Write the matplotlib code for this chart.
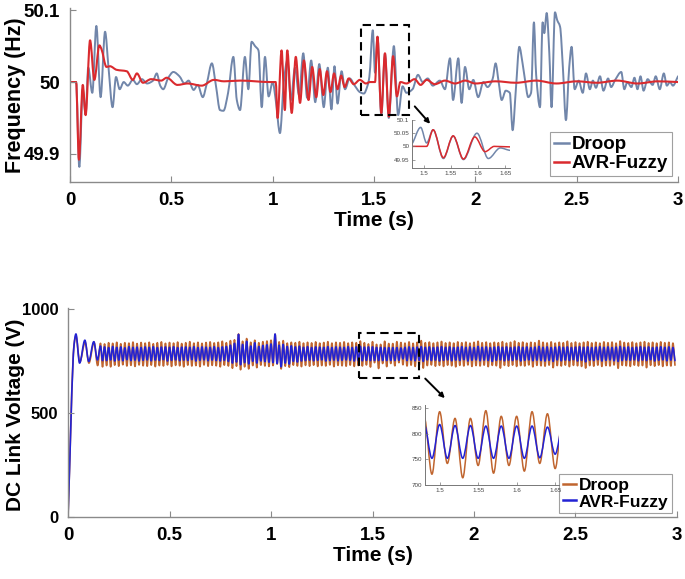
import numpy as np
import matplotlib
matplotlib.use("Agg")
import matplotlib.pyplot as plt
from matplotlib.path import Path
from matplotlib.patches import PathPatch, Rectangle
from matplotlib.lines import Line2D

plt.rcParams["font.family"] = ["Liberation Sans", "DejaVu Sans"]

# ---------------- frequency (Hz) ----------------
droop_f_t = [0, 0.03, 0.046, 0.063, 0.077, 0.09, 0.11, 0.13, 0.151, 0.173, 0.19, 0.21, 0.227, 0.245,
             0.265, 0.285, 0.31, 0.33, 0.355, 0.38, 0.41, 0.428, 0.445, 0.46, 0.485, 0.51, 0.54, 0.565,
             0.585, 0.61, 0.63, 0.655, 0.675, 0.70, 0.72, 0.74, 0.757, 0.78, 0.806, 0.823, 0.839, 0.863,
             0.88, 0.896, 0.913, 0.93, 0.946, 0.962, 0.98, 1.0, 1.015, 1.036, 1.055, 1.072, 1.09, 1.11,
             1.13, 1.151, 1.17, 1.19, 1.21, 1.23, 1.252, 1.272, 1.29, 1.305, 1.32, 1.34, 1.357, 1.38,
             1.405, 1.43, 1.45, 1.468, 1.477, 1.494, 1.505, 1.517, 1.536, 1.554, 1.573, 1.598, 1.619,
             1.641, 1.66, 1.69, 1.717, 1.74, 1.765, 1.79, 1.825, 1.85, 1.875, 1.89, 1.916, 1.932, 1.949,
             1.97, 1.99, 2.014, 2.04, 2.06, 2.085, 2.10, 2.115, 2.13, 2.15, 2.17, 2.184, 2.20, 2.217,
             2.233, 2.244, 2.261, 2.275, 2.289, 2.30, 2.319, 2.332, 2.34, 2.352, 2.365, 2.376, 2.393,
             2.404, 2.418, 2.432, 2.447, 2.463, 2.475, 2.49, 2.51, 2.53, 2.546, 2.565, 2.58, 2.595,
             2.615, 2.632, 2.655, 2.67, 2.69, 2.72, 2.735, 2.75, 2.77, 2.785, 2.80, 2.815, 2.83, 2.85,
             2.875, 2.89, 2.91, 2.93, 2.945, 2.96, 2.975, 3.0]
droop_f = [50.0, 50.0, 49.882, 49.99, 49.955, 50.02, 49.985, 50.078, 49.979, 50.07, 50.02, 49.965, 50.007, 49.99,
           50.0, 49.995, 50.003, 49.997, 50.004, 49.998, 50.002, 50.012, 49.995, 49.99, 50.006, 50.014, 50.008, 49.998,
           50.002, 49.989, 49.996, 49.979, 49.998, 50.026, 49.995, 49.961, 49.96, 49.985, 50.035, 49.975, 49.961, 50.035,
           49.99, 50.056, 50.05, 50.044, 49.965, 50.035, 49.98, 50.0, 49.975, 49.929, 50.0, 50.03, 49.975, 50.02,
           49.982, 50.04, 49.978, 50.03, 49.972, 50.025, 49.965, 50.02, 49.962, 50.022, 49.97, 50.015, 49.99, 50.005,
           49.995, 49.986, 49.984, 49.995, 50.007, 50.072, 50.013, 50.063, 49.954, 50.039, 49.95, 50.05, 49.954,
           49.994, 49.985, 49.99, 50.01, 50.0, 50.005, 49.995, 50.002, 49.99, 50.033, 49.975, 50.033, 49.971, 50.021,
           49.99, 50.003, 49.979, 50.0, 49.993, 50.004, 50.026, 50.0, 49.975, 49.988, 49.985, 49.933, 49.99, 50.049,
           50.026, 50.005, 49.979, 49.985, 50.083, 50.01, 49.965, 50.083, 50.068, 50.096, 50.04, 49.965, 50.097,
           50.086, 50.077, 50.02, 49.947, 50.02, 50.049, 49.99, 50.002, 49.985, 50.012, 49.99, 50.002, 49.992,
           50.008, 49.988, 50.005, 49.993, 50.003, 50.014, 49.99, 50.0, 49.993, 50.006, 49.99, 50.008, 49.988, 50.004,
           49.996, 50.008, 49.99, 50.012, 49.995, 50.0, 49.995, 50.008]

avr_f_t = [0, 0.03, 0.044, 0.063, 0.077, 0.099, 0.12, 0.145, 0.155, 0.18, 0.197, 0.23, 0.28, 0.31, 0.33,
           0.36, 0.40, 0.45, 0.477, 0.53, 0.58, 0.65, 0.71, 0.76, 0.84, 0.99, 1.015, 1.024, 1.044, 1.06,
           1.072, 1.094, 1.114, 1.135, 1.154, 1.177, 1.195, 1.215, 1.232, 1.25, 1.268, 1.285, 1.303, 1.32,
           1.338, 1.355, 1.375, 1.40, 1.43, 1.46, 1.48, 1.505, 1.517, 1.536, 1.554, 1.573, 1.594, 1.613,
           1.63, 1.66, 1.70, 1.73, 1.76, 1.80, 1.85, 1.90, 1.95, 2.0, 2.1, 2.2, 2.3, 2.4, 2.5, 2.6, 2.7,
           2.8, 2.9, 3.0]
avr_f = [50.0, 50.0, 49.892, 49.996, 49.954, 50.058, 50.003, 50.051, 50.046, 50.021, 50.022, 50.017, 50.015, 50.003, 50.012,
         49.999, 50.004, 50.002, 50.006, 49.996, 49.998, 49.995, 50.003, 50.001, 50.002, 50.0, 50.0, 49.95, 50.044, 49.961,
         50.044, 49.957, 50.035, 49.971, 50.03, 49.975, 50.021, 49.979, 50.018, 49.982, 50.015, 49.986, 50.012, 49.99,
         50.009, 49.993, 50.005, 49.997, 50.003, 49.998, 50.0, 50.0, 50.063, 49.957, 50.04, 49.952, 50.036, 49.98,
         50.0, 49.998, 50.004, 49.996, 50.003, 49.997, 50.002, 49.998, 50.002, 49.998, 50.001, 49.999, 50.002, 49.998, 50.001,
         49.999, 50.002, 49.998, 50.001, 50.0]

# ---------------- DC link voltage (V) ----------------
# start-up transient, then one peak/trough per 20 ms cycle
droop_v_start_t = [0, 0.03, 0.039, 0.058, 0.084, 0.103, 0.128, 0.146, 0.16, 0.17]
droop_v_start = [0, 830, 870, 745, 840, 740, 840, 728, 835, 722]
avr_v_start_t = [0, 0.03, 0.039, 0.057, 0.083, 0.102, 0.127, 0.145, 0.16, 0.17]
avr_v_start = [0, 830, 880, 740, 850, 748, 843, 755, 822, 752]

droop_v_hi = [832, 838, 835, 840, 833, 838, 836, 841, 834, 839,
              836, 840, 833, 838, 842, 835, 839, 836, 841, 834,
              838, 843, 836, 840, 835, 839, 842, 837, 840, 845,
              838, 848, 852, 880, 845, 858, 840, 850, 838, 843,
              846, 850, 878, 842, 848, 836, 840, 838, 843, 836,
              840, 837, 842, 836, 839, 843, 836, 840, 838, 842,
              836, 840, 838, 846, 838, 832, 843, 830, 830, 845,
              834, 834, 843, 839, 836, 842, 835, 840, 848, 838,
              841, 836, 840, 844, 837, 840, 836, 842, 838, 841,
              836, 840, 845, 838, 841, 836, 840, 838, 843, 836,
              840, 846, 838, 841, 836, 840, 838, 848, 840, 837,
              842, 836, 840, 838, 845, 837, 841, 836, 840, 843,
              837, 840, 836, 842, 838, 841, 836, 846, 839, 837,
              841, 836, 840, 843, 837, 840, 836, 842, 838, 840, 836]
droop_v_lo = [728, 722, 730, 725, 732, 726, 729, 724, 731, 727,
              725, 730, 723, 728, 726, 731, 724, 729, 727, 722,
              730, 726, 728, 723, 731, 725, 729, 727, 722, 730,
              726, 715, 725, 708, 722, 712, 728, 718, 730, 726,
              724, 728, 735, 712, 725, 720, 730, 726, 723, 729,
              725, 730, 724, 728, 726, 731, 723, 729, 727, 725,
              730, 724, 728, 726, 731, 721, 742, 714, 738, 723,
              738, 727, 742, 732, 726, 730, 724, 729, 716, 728,
              731, 725, 729, 724, 730, 727, 722, 729, 726, 731,
              724, 728, 726, 730, 723, 729, 727, 716, 729, 725,
              730, 724, 728, 726, 731, 722, 729, 727, 725, 730,
              718, 728, 726, 730, 723, 729, 727, 724, 716, 728,
              725, 730, 724, 728, 726, 731, 715, 729, 727, 724,
              730, 726, 728, 718, 729, 725, 730, 724, 728, 726, 730]
avr_v_hi = [818, 815, 820, 816, 818, 814, 819, 816, 817, 815,
            818, 816, 819, 815, 817, 818, 816, 819, 815, 817,
            818, 816, 819, 815, 818, 817, 816, 819, 815, 818,
            820, 826, 835, 878, 830, 845, 822, 838, 820, 825,
            828, 832, 880, 826, 830, 820, 823, 818, 821, 816,
            819, 815, 818, 817, 816, 819, 815, 818, 817, 816,
            819, 815, 818, 820, 817, 818, 818, 816, 816, 815,
            815, 815, 815, 813, 816, 818, 815, 817, 819, 816,
            818, 815, 817, 819, 816, 818, 815, 817, 819, 816,
            818, 815, 820, 816, 818, 815, 817, 819, 816, 818,
            815, 817, 819, 816, 818, 815, 817, 820, 816, 818,
            815, 817, 819, 816, 818, 815, 817, 819, 816, 818,
            815, 817, 819, 816, 818, 815, 817, 820, 816, 818,
            815, 817, 819, 816, 818, 815, 817, 819, 816, 818, 815]
avr_v_lo = [752, 755, 750, 754, 751, 756, 752, 754, 750, 753,
            755, 751, 754, 752, 756, 750, 753, 755, 751, 754,
            752, 756, 750, 753, 755, 751, 754, 752, 750, 753,
            748, 740, 745, 732, 742, 736, 748, 740, 750, 747,
            744, 742, 738, 722, 740, 735, 748, 745, 750, 752,
            754, 751, 753, 755, 750, 752, 754, 751, 753, 755,
            753, 750, 752, 751, 753, 752, 752, 752, 752, 752,
            752, 752, 753, 760, 752, 754, 751, 753, 748, 755,
            752, 754, 750, 753, 755, 751, 754, 752, 756, 750,
            753, 755, 751, 754, 752, 748, 753, 755, 751, 754,
            752, 756, 750, 753, 755, 751, 754, 752, 750, 753,
            748, 755, 751, 754, 752, 756, 750, 753, 746, 754,
            752, 756, 750, 753, 755, 751, 748, 752, 754, 753,
            755, 751, 754, 752, 756, 750, 753, 755, 751, 754, 752]

cycle_k = np.arange(len(droop_v_hi))
peak_t = 0.18 + 0.02 * cycle_k
trough_t = peak_t + 0.01


def join_cycles(start_t, start_v, hi, lo):
    t = list(start_t) + list(np.column_stack([peak_t, trough_t]).ravel())
    v = list(start_v) + list(np.column_stack([hi, lo]).ravel())
    return t, v


droop_v_t, droop_v = join_cycles(droop_v_start_t, droop_v_start, droop_v_hi, droop_v_lo)
avr_v_t, avr_v = join_cycles(avr_v_start_t, avr_v_start, avr_v_hi, avr_v_lo)

c_droop_f = "#7186AA"
c_avr_f = "#DA2A2E"
c_droop_v = "#C0652F"
c_avr_v = "#2222D4"


def smooth_line(ax, t, v, **kw):
    # draw the sampled points as a shape-preserving cubic (Bezier) curve
    t = np.asarray(t, float)
    v = np.asarray(v, float)
    h = np.diff(t)
    d = np.diff(v) / h
    m = np.zeros_like(v)
    for i in range(1, len(v) - 1):
        if d[i - 1] * d[i] > 0:
            m[i] = 2 / (1 / d[i - 1] + 1 / d[i])
    m[0] = d[0]
    m[-1] = d[-1]
    verts = [(t[0], v[0])]
    codes = [Path.MOVETO]
    for i in range(len(h)):
        verts += [(t[i] + h[i] / 3, v[i] + m[i] * h[i] / 3),
                  (t[i + 1] - h[i] / 3, v[i + 1] - m[i + 1] * h[i] / 3),
                  (t[i + 1], v[i + 1])]
        codes += [Path.CURVE4] * 3
    patch = PathPatch(Path(verts, codes), fill=False, capstyle="round", joinstyle="round", **kw)
    ax.add_patch(patch)
    return patch


def style_axes(ax, size=13.5, color="#8a8a8a"):
    for s in ["top", "right"]:
        ax.spines[s].set_visible(False)
    for s in ["left", "bottom"]:
        ax.spines[s].set_color(color)
        ax.spines[s].set_linewidth(1.0)
    ax.tick_params(direction="in", length=4, width=0.8, color=color, labelsize=size, pad=7)
    for lab in ax.get_xticklabels() + ax.get_yticklabels():
        lab.set_fontweight("bold")


def style_inset(ax):
    for s in ["top", "right"]:
        ax.spines[s].set_visible(False)
    for s in ["left", "bottom"]:
        ax.spines[s].set_color("#777777")
        ax.spines[s].set_linewidth(0.7)
    ax.tick_params(direction="in", length=2, width=0.5, color="#777777",
                   labelsize=4.5, labelcolor="#444444", pad=2)
    ax.patch.set_alpha(0.0)


def make_legend(ax, colors, anchor, size):
    leg = ax.legend(handles=[Line2D([], [], color=c, lw=1.8) for c in colors],
                    labels=["Droop", "AVR-Fuzzy"], loc="lower right",
                    bbox_to_anchor=anchor, prop=dict(size=size, weight="bold"),
                    frameon=True, fancybox=False, edgecolor="#888888", borderpad=0.2,
                    handlelength=0.8, handletextpad=0.15, labelspacing=0.1, borderaxespad=0)
    leg.get_frame().set_linewidth(0.8)
    return leg


fig = plt.figure(figsize=(6.85, 5.79), dpi=100)

# ---------------- top: frequency ----------------
ax1 = fig.add_axes([0.1022, 0.6857, 0.8876, 0.3005])
smooth_line(ax1, droop_f_t, droop_f, color=c_droop_f, lw=1.4)
smooth_line(ax1, avr_f_t, avr_f, color=c_avr_f, lw=1.5)
ax1.set_xlim(0, 3)
ax1.set_ylim(49.861, 50.103)
ax1.set_xticks([0, 0.5, 1, 1.5, 2, 2.5, 3])
ax1.set_xticklabels(["0", "0.5", "1", "1.5", "2", "2.5", "3"])
ax1.set_yticks([49.9, 50, 50.1])
ax1.set_yticklabels(["49.9", "50", "50.1"])
style_axes(ax1)
ax1.set_xlabel("Time (s)", fontsize=15, fontweight="bold", labelpad=2)
ax1.set_ylabel("Frequency (Hz)", fontsize=15.5, fontweight="bold")
ax1.yaxis.set_label_coords(-0.0724, 0.5)
ax1.add_patch(Rectangle((1.434, 49.954), 0.24, 0.125, fill=False, ec="black",
                        lw=1.5, ls=(0, (4, 2.5))))
ax1.annotate("", xy=(1.786, 49.939), xytext=(1.692, 49.969),
             arrowprops=dict(arrowstyle="-|>", color="black", lw=1.4, mutation_scale=7))
make_legend(ax1, [c_droop_f, c_avr_f], (0.99, 0.034), 13.5)

ins1 = fig.add_axes([412 / 685, 1 - 168 / 579, 98 / 685, 48 / 579])
smooth_line(ins1, droop_f_t, droop_f, color=c_droop_f, lw=1.1)
smooth_line(ins1, avr_f_t, avr_f, color=c_avr_f, lw=1.1)
ins1.set_xlim(1.478, 1.659)
ins1.set_ylim(49.918, 50.1)
ins1.set_xticks([1.5, 1.55, 1.6, 1.65])
ins1.set_xticklabels(["1.5", "1.55", "1.6", "1.65"])
ins1.set_yticks([49.95, 50, 50.05, 50.1])
ins1.set_yticklabels(["49.95", "50", "50.05", "50.1"])
style_inset(ins1)

# ---------------- bottom: DC link voltage ----------------
ax2 = fig.add_axes([0.0993, 0.1071, 0.889, 0.361])
smooth_line(ax2, droop_v_t, droop_v, color=c_droop_v, lw=1.2)
smooth_line(ax2, avr_v_t, avr_v, color=c_avr_v, lw=1.2)
ax2.set_xlim(0, 3)
ax2.set_ylim(0, 1005)
ax2.set_xticks([0, 0.5, 1, 1.5, 2, 2.5, 3])
ax2.set_xticklabels(["0", "0.5", "1", "1.5", "2", "2.5", "3"])
ax2.set_yticks([0, 500, 1000])
ax2.set_yticklabels(["0", "500", "1000"])
style_axes(ax2)
ax2.tick_params(axis="y", labelsize=12)
ax2.set_xlabel("Time (s)", fontsize=15, fontweight="bold", labelpad=2)
ax2.set_ylabel("DC Link Voltage (V)", fontsize=15, fontweight="bold")
ax2.yaxis.set_label_coords(-0.0705, 0.49)
ax2.add_patch(Rectangle((1.435, 667), 0.295, 216, fill=False, ec="black",
                        lw=1.5, ls=(0, (4, 2.5))))
ax2.annotate("", xy=(1.866, 562), xytext=(1.75, 675),
             arrowprops=dict(arrowstyle="-|>", color="black", lw=1.4, mutation_scale=7))
make_legend(ax2, [c_droop_v, c_avr_v], (0.992, 0.019), 12.5)

ins2 = fig.add_axes([425 / 685, 1 - 485 / 579, 134 / 685, 80 / 579])
smooth_line(ins2, droop_v_t, droop_v, color=c_droop_v, lw=1.1)
smooth_line(ins2, avr_v_t, avr_v, color=c_avr_v, lw=1.1)
ins2.set_xlim(1.481, 1.655)
ins2.set_ylim(700, 856)
ins2.set_xticks([1.5, 1.55, 1.6, 1.65])
ins2.set_xticklabels(["1.5", "1.55", "1.6", "1.65"])
ins2.set_yticks([700, 750, 800, 850])
ins2.set_yticklabels(["700", "750", "800", "850"])
style_inset(ins2)

fig.savefig("out.png", dpi=100)
